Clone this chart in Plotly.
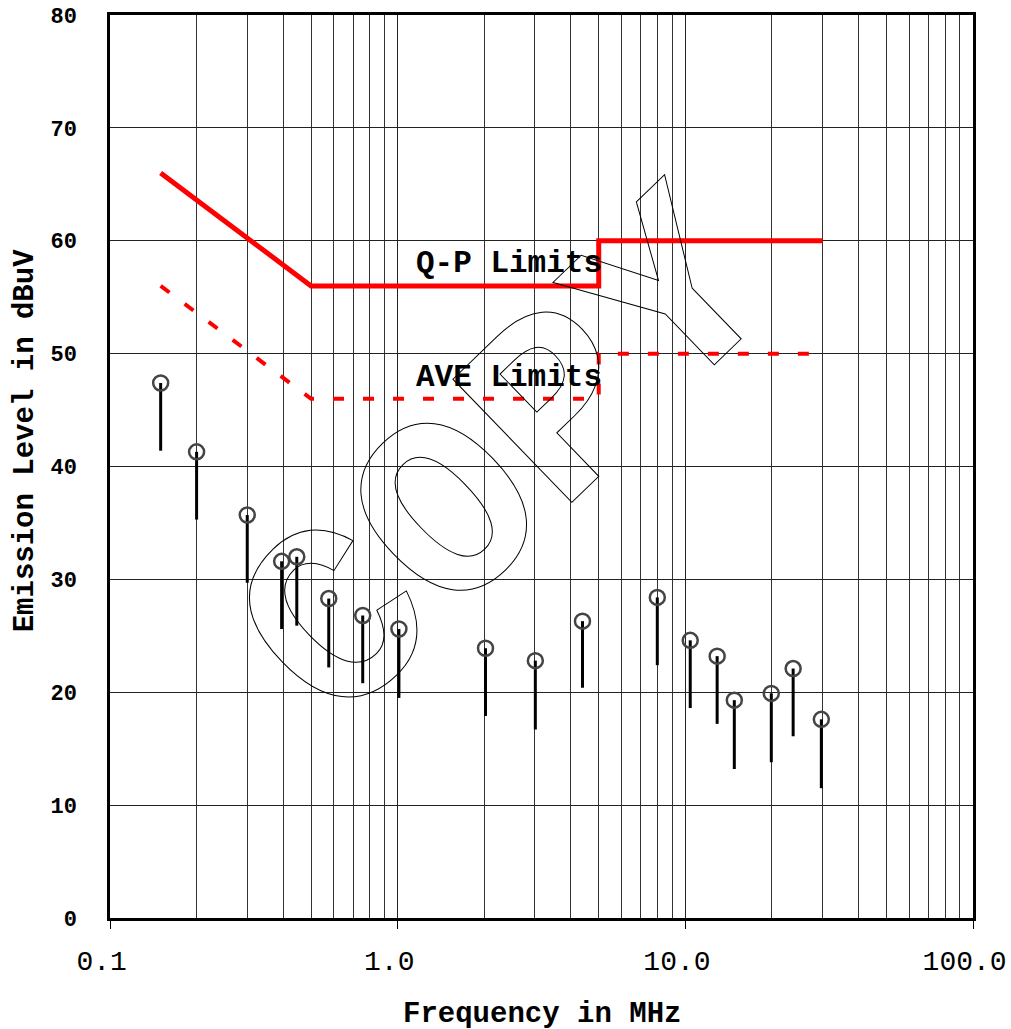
# Conducted emission scan with Q-P / AVE limit lines (log frequency axis)
import plotly.graph_objects as go

# measured emissions (MHz, dBuV)
freq_mhz = [0.15, 0.20, 0.30, 0.395, 0.446, 0.576, 0.756, 1.01, 2.02, 3.01,
            4.39, 7.99, 10.4, 12.9, 14.8, 19.9, 23.7, 29.7]
peak_dbuv = [47.4, 41.3, 35.7, 31.6, 32.0, 28.3, 26.8, 25.6, 23.9, 22.8,
             26.3, 28.4, 24.6, 23.2, 19.3, 19.9, 22.1, 17.6]
ave_dbuv = [41.4, 35.3, 29.7, 25.6, 25.9, 22.2, 20.8, 19.5, 17.9, 16.7,
            20.4, 22.4, 18.6, 17.2, 13.2, 13.8, 16.1, 11.5]

# limit lines
qp_freq = [0.15, 0.5, 5.0, 5.0, 30.0]
qp_limit = [66, 56, 56, 60, 60]
ave_freq = [0.15, 0.5, 5.0, 5.0, 30.0]
ave_limit = [56, 46, 46, 50, 50]

x_tickvals = [0.1, 1, 10, 100]
# nbsp nudges the labels a little left of the tick, like the original
x_ticktext = ["0.1\u00a0", "1.0\u00a0", "10.0\u00a0", "100.0\u00a0"]
y_tickvals = [0, 10, 20, 30, 40, 50, 60, 70, 80]

# minor grid at 2..9 of every decade
minor_vals = [m * d for d in (0.1, 1, 10) for m in range(2, 10)]

# stems: one segment per point, from peak down to average
stem_x, stem_y = [], []
for f, p, a in zip(freq_mhz, peak_dbuv, ave_dbuv):
    stem_x += [f, f, None]
    stem_y += [p, a, None]

MONO = "Liberation Mono"

fig = go.Figure()
fig.add_trace(go.Scatter(x=qp_freq, y=qp_limit, mode="lines",
                         line=dict(color="#ff0000", width=5)))
fig.add_trace(go.Scatter(x=ave_freq, y=ave_limit, mode="lines",
                         line=dict(color="#ff0000", width=4, dash="11px,19px")))
fig.add_trace(go.Scatter(x=stem_x, y=stem_y, mode="lines",
                         line=dict(color="#000000", width=3)))
fig.add_trace(go.Scatter(x=freq_mhz, y=peak_dbuv, mode="markers",
                         marker=dict(symbol="circle-open", size=15,
                                     color="#444444", line=dict(width=2.5))))

fig.update_xaxes(
    type="log", range=[-1, 2],
    tickvals=x_tickvals, ticktext=x_ticktext,
    ticks="outside", ticklen=8, tickcolor="#000",
    tickfont=dict(family=MONO, size=28, color="#000"),
    ticklabelstandoff=8, ticklabeloverflow="allow",
    showgrid=True, gridcolor="#222", gridwidth=1,
    minor=dict(tickvals=minor_vals, showgrid=True, gridcolor="#333", gridwidth=1, ticks=""),
    showline=True, linecolor="#000", linewidth=2.5, mirror=True,
    zeroline=False, automargin=False,
)
fig.update_yaxes(
    range=[0, 80], tickvals=y_tickvals,
    ticks="", tickfont=dict(family=MONO, size=22, color="#000", weight="bold"),
    ticklabelstandoff=26, ticklabeloverflow="allow",
    showgrid=True, gridcolor="#222", gridwidth=1,
    showline=True, linecolor="#000", linewidth=2.5, mirror=True,
    zeroline=False, automargin=False,
)

label_font = dict(family=MONO, size=31, color="#000", weight="bold")
fig.update_layout(
    width=1011, height=1029,
    margin=dict(l=110, r=38, t=15, b=111),
    plot_bgcolor="#fff", paper_bgcolor="#fff",
    showlegend=False,
    annotations=[
        dict(text="Q-P Limits", xref="paper", yref="paper", x=0.352, y=0.725,
             xanchor="left", yanchor="middle", showarrow=False, font=label_font),
        dict(text="AVE Limits", xref="paper", yref="paper", x=0.352, y=0.599,
             xanchor="left", yanchor="middle", showarrow=False, font=label_font),
        # outlined watermark (stroke added by css below)
        dict(text="COPY", xref="paper", yref="paper", x=0.466, y=0.503,
             xanchor="center", yanchor="middle", showarrow=False, textangle=-44,
             font=dict(family=MONO, size=260, color="rgba(0,0,0,0)", weight="bold")),
        dict(text="Frequency in MHz", xref="paper", yref="paper", x=0.5, y=-0.107,
             xanchor="center", yanchor="middle", showarrow=False,
             font=dict(family=MONO, size=29, color="#000", weight="bold")),
        dict(text="Emission Level in dBuV", xref="paper", yref="paper", x=-0.0985, y=0.529,
             xanchor="center", yanchor="middle", showarrow=False, textangle=-90,
             font=dict(family=MONO, size=29, color="#000", weight="bold")),
    ],
)

# page margin off, and outline stroke for the watermark
post = """
document.body.style.margin = '0';
var s = document.createElement('style');
s.innerHTML = "g.annotation[data-index='2'] text.annotation-text{stroke:#000;stroke-width:1px;stroke-opacity:1;}";
document.head.appendChild(s);
"""

fig.write_html("out.html", post_script=post, config={"displayModeBar": False})
